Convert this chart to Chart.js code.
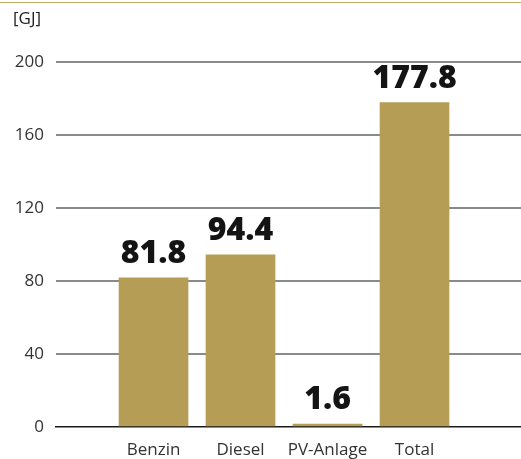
<!DOCTYPE html>
<html>
<head>
<meta charset="utf-8">
<script src="https://cdn.jsdelivr.net/npm/chart.js@4/dist/chart.umd.min.js"></script>
<style>
  html, body { margin: 0; padding: 0; background: #fff; }
  #wrap { position: relative; width: 521px; height: 459px; overflow: hidden; }
  #topline { position: absolute; left: 0; top: 2px; width: 521px; height: 1px; background: #c2aa68; }
  #unit { position: absolute; left: 13px; top: 6px; font: 17px "Open Sans", sans-serif; color: #222; }
</style>
</head>
<body>
<div id="wrap">
  <div id="topline"></div>
  <div id="unit">[GJ]</div>
  <canvas id="chart" width="521" height="459"></canvas>
</div>
<script>
// Energieverbrauch in GJ
const categories = ['Benzin', 'Diesel', 'PV-Anlage', 'Total'];
const values = [81.8, 94.4, 1.6, 177.8];
const valueLabels = ['81.8', '94.4', '1.6', '177.8'];
const yTicks = [0, 40, 80, 120, 160, 200];

const gold = '#b59d55';

// Werte über den Balken
const valueLabelPlugin = {
    id: 'valueLabels',
    afterDatasetsDraw(chart) {
        const ctx = chart.ctx;
        const meta = chart.getDatasetMeta(0);
        ctx.save();
        ctx.font = '800 32px "Open Sans", sans-serif';
        ctx.fillStyle = '#141414';
        ctx.textAlign = 'center';
        ctx.textBaseline = 'alphabetic';
        meta.data.forEach((bar, i) => {
            ctx.fillText(valueLabels[i], bar.x, bar.y - 15);
        });
        ctx.restore();
    }
};

new Chart(document.getElementById('chart'), {
    type: 'bar',
    data: {
        datasets: [{
            data: values.map((v, i) => ({ x: i, y: v })),
            backgroundColor: gold,
            borderWidth: 0,
            barThickness: 69
        }]
    },
    plugins: [valueLabelPlugin],
    options: {
        responsive: false,
        animation: false,
        layout: { padding: { left: 0, top: 62, right: 0, bottom: 0 } },
        plugins: {
            legend: { display: false },
            tooltip: { enabled: false }
        },
        scales: {
            x: {
                type: 'linear',
                offset: false,
                min: -1.121,
                max: 4.224,
                afterBuildTicks: (axis) => {
                    axis.ticks = categories.map((c, i) => ({ value: i }));
                },
                afterFit: (scale) => { scale.height = 32; },
                ticks: {
                    autoSkip: false,
                    maxRotation: 0,
                    padding: 13,
                    color: '#333',
                    font: { family: '"Open Sans", sans-serif', size: 17 },
                    callback: (v) => categories[v] ?? ''
                },
                grid: { display: false, drawTicks: false },
                border: { display: true, color: '#1a1a1a', width: 1.5 }
            },
            y: {
                min: 0,
                max: 200,
                afterBuildTicks: (axis) => {
                    axis.ticks = yTicks.map(v => ({ value: v }));
                },
                afterFit: (scale) => { scale.width = 56; },
                ticks: {
                    padding: 12,
                    color: '#333',
                    font: { family: '"Open Sans", sans-serif', size: 17 }
                },
                grid: {
                    drawTicks: false,
                    color: (c) => c.tick && c.tick.value === 0 ? 'rgba(0,0,0,0)' : '#8a8a8a',
                    lineWidth: 2
                },
                border: { display: false }
            }
        }
    }
});
</script>
</body>
</html>
